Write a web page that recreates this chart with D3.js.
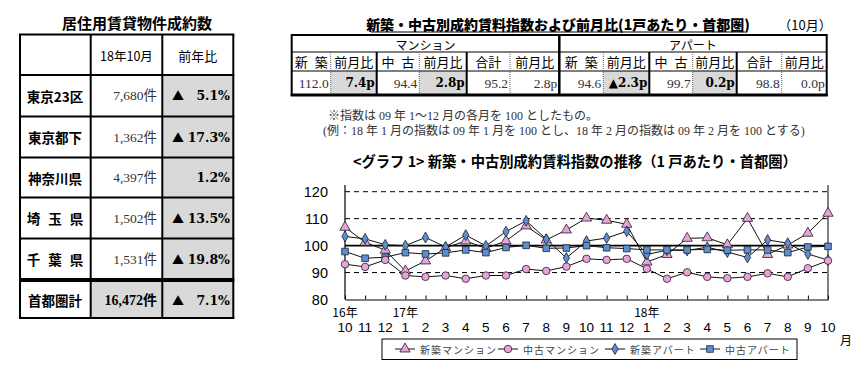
<!DOCTYPE html>
<html><head><meta charset="utf-8">
<script src="https://cdn.jsdelivr.net/npm/d3@7"></script>
<style>
html,body{margin:0;padding:0;background:#fff;}
svg{display:block;}
</style></head>
<body><svg id="c" width="864" height="382"></svg>
<script>
// ---------- data ----------
const regions = ["東京23区","東京都下","神奈川県","埼 玉 県","千 葉 県","首都圏計"];
const contracts = ["7,680件","1,362件","4,397件","1,502件","1,531件","16,472件"];
const yoyDown = [true,true,false,true,true,true];
const yoyValues = ["5.1%","17.3%","1.2%","13.5%","19.8%","7.1%"];

const idxGroups = ["マンション","アパート"];
const idxHeaders = ["新 築","前月比","中 古","前月比","合計","前月比","新 築","前月比","中 古","前月比","合計","前月比"];
const idxValues = ["112.0","7.4p","94.4","2.8p","95.2","2.8p","94.6","▲2.3p","99.7","0.2p","98.8","0.0p"];

const months = ["10","11","12","1","2","3","4","5","6","7","8","9","10","11","12","1","2","3","4","5","6","7","8","9","10"];
const yearLabels = ["16年","","","17年","","","","","","","","","","","","18年","","","","","","","","",""];
const yTicks = [80,90,100,110,120];
const seriesNames = ["新築マンション","中古マンション","新築アパート","中古アパート"];
const newMansion = [106.8,101.2,98.3,90.6,94.3,99.2,101.7,99.0,101.7,107.3,102.1,105.8,110.2,109.4,107.9,93.9,96.7,102.7,102.9,100.3,110.1,96.7,100.2,104.6,112.0];
const usedMansion = [93.1,92.1,94.7,88.9,88.4,88.9,87.7,88.9,88.9,91.3,90.6,92.2,95.1,94.7,95.1,91.4,87.7,90.1,88.4,87.9,88.4,89.7,88.4,91.6,94.4];
const newApart = [103.4,102.5,100.3,100.0,103.0,99.5,103.9,99.9,105.2,109.2,102.4,95.4,101.7,102.8,105.3,96.7,98.3,98.2,99.4,97.6,95.6,102.1,100.9,96.9,94.6];
const usedApart = [97.8,95.3,95.7,97.4,96.9,97.3,98.4,97.4,99.3,100.1,99.0,99.1,100.0,99.2,98.9,98.4,98.4,98.4,98.6,98.3,98.4,98.4,97.4,99.5,99.7];

// ---------- setup ----------
const svg = d3.select("#c");
const GOTHIC = "'Noto Sans CJK JP','Noto Sans',sans-serif";
const SERIF = "'Liberation Serif','Noto Sans CJK JP',serif";
const NUMSANS = "'Liberation Sans','Noto Sans CJK JP',sans-serif";
const SHADE = "#d9d9d9";

// ---------- Table 1 ----------
const t1 = svg.append("g");
t1.append("text").attr("x",137).attr("y",22).attr("text-anchor","middle").attr("dominant-baseline","central")
  .attr("font-family",GOTHIC).attr("font-weight","bold").attr("font-size",15).text("居住用賃貸物件成約数");
const t1cols = [20,90.7,162.3,233.3];
const t1rows = [34.5,75,116.5,157.5,197.5,238.5,280,318];
for (let r=0;r<6;r++){
  const y0 = r===5 ? 282 : t1rows[r+1], y1 = r===5 ? 318 : t1rows[r+2];
  t1.append("rect").attr("x",t1cols[2]).attr("y",y0).attr("width",t1cols[3]-t1cols[2]).attr("height",y1-y0).attr("fill",SHADE);
}
t1.append("rect").attr("x",t1cols[1]).attr("y",282).attr("width",t1cols[2]-t1cols[1]).attr("height",36).attr("fill",SHADE);
t1.append("text").attr("x",(t1cols[1]+t1cols[2])/2).attr("y",55).attr("text-anchor","middle").attr("dominant-baseline","central")
  .attr("font-family",GOTHIC).attr("font-size",12.5).text("18年10月");
t1.append("text").attr("x",(t1cols[2]+t1cols[3])/2).attr("y",55).attr("text-anchor","middle").attr("dominant-baseline","central")
  .attr("font-family",GOTHIC).attr("font-size",13).text("前年比");
regions.forEach((name,i)=>{
  const yc = i===5 ? 300 : (t1rows[i+1]+t1rows[i+2])/2;
  const total = i===5;
  t1.append("text").attr("x",55).attr("y",yc).attr("text-anchor","middle").attr("dominant-baseline","central")
    .attr("font-family",GOTHIC).attr("font-weight","bold").attr("font-size",13.5)
    .attr("word-spacing", name.includes(" ")?5:0).text(name);
  t1.append("text").attr("x",157).attr("y",yc).attr("text-anchor","end").attr("dominant-baseline","central")
    .attr("font-family",SERIF).attr("font-weight",total?"bold":"normal").attr("font-size",total?14:13.5)
    .attr("fill",total?"#000":"#333").text(contracts[i]);
  if (yoyDown[i]) t1.append("text").attr("x",172).attr("y",yc).attr("text-anchor","start").attr("dominant-baseline","central")
    .attr("font-family",GOTHIC).attr("font-size",12).text("▲");
  t1.append("text").attr("x",230).attr("y",yc).attr("text-anchor","end").attr("dominant-baseline","central")
    .attr("font-family","'DejaVu Serif',serif").attr("font-weight","bold").attr("font-size",12.5).text(yoyValues[i]);
});
t1cols.forEach(x=>t1.append("line").attr("x1",x).attr("x2",x).attr("y1",t1rows[0]).attr("y2",318).attr("stroke","#000").attr("stroke-width",2));
[34.5,75,116.5,157.5,197.5,238.5,318].forEach(y=>t1.append("line").attr("x1",19).attr("x2",234.3).attr("y1",y).attr("y2",y).attr("stroke","#000").attr("stroke-width",2));
t1.append("line").attr("x1",19).attr("x2",234.3).attr("y1",280).attr("y2",280).attr("stroke","#000").attr("stroke-width",4);

// ---------- Table 2 ----------
const t2 = svg.append("g");
t2.append("text").attr("x",558).attr("y",24).attr("text-anchor","middle").attr("dominant-baseline","central")
  .attr("font-family",GOTHIC).attr("font-weight","900").attr("font-size",14).text("新築・中古別成約賃料指数および前月比(1戸あたり・首都圏)");
t2.append("line").attr("x1",371).attr("x2",745).attr("y1",32).attr("y2",32).attr("stroke","#000").attr("stroke-width",1.2);
t2.append("text").attr("x",805).attr("y",24).attr("text-anchor","middle").attr("dominant-baseline","central")
  .attr("font-family",GOTHIC).attr("font-size",13).text("（10月）");
const cx = [291.7,330.7,376.7,419.3,466.7,510,559.3,603.3,649.3,692.7,736.7,781.7,826.7];
const r2 = [35,52,71,95];
[1,3,7,9].forEach(c=>t2.append("rect").attr("x",cx[c]).attr("y",r2[2]).attr("width",cx[c+1]-cx[c]).attr("height",r2[3]-r2[2]).attr("fill",SHADE));
idxGroups.forEach((g,i)=>{
  t2.append("text").attr("x",(cx[i*6]+cx[i*6+6])/2).attr("y",(r2[0]+r2[1])/2+0.5).attr("text-anchor","middle").attr("dominant-baseline","central")
    .attr("font-family",GOTHIC).attr("font-size",12).text(g);
});
idxHeaders.forEach((h,i)=>{
  t2.append("text").attr("x",(cx[i]+cx[i+1])/2).attr("y",(r2[1]+r2[2])/2).attr("text-anchor","middle").attr("dominant-baseline","central")
    .attr("font-family",GOTHIC).attr("font-size",13).attr("word-spacing",h.includes(" ")?4:0).text(h);
});
idxValues.forEach((v,i)=>{
  const bold = [1,3,7,9].includes(i);
  t2.append("text").attr("x",cx[i+1]-2).attr("y",(r2[2]+r2[3])/2).attr("text-anchor","end").attr("dominant-baseline","central")
    .attr("font-family",bold?"'DejaVu Serif',serif":SERIF).attr("font-weight",bold?"bold":"normal")
    .attr("font-size",bold?12:13.5).attr("fill",bold?"#000":"#333").text(v);
});
t2.append("line").attr("x1",cx[0]).attr("x2",cx[12]).attr("y1",r2[1]).attr("y2",r2[1]).attr("stroke","#000").attr("stroke-width",1);
t2.append("line").attr("x1",cx[0]).attr("x2",cx[12]).attr("y1",r2[2]).attr("y2",r2[2]).attr("stroke","#000").attr("stroke-width",1);
cx.forEach((x,i)=>{
  if (i===0||i===12||i===6) return;
  const dotted = i%2===1;
  t2.append("line").attr("x1",x).attr("x2",x).attr("y1",r2[1]).attr("y2",r2[3]).attr("stroke",dotted?"#666":"#000")
    .attr("stroke-width",dotted?1:2).attr("stroke-dasharray",dotted?"1,1":null);
});
t2.append("line").attr("x1",cx[6]).attr("x2",cx[6]).attr("y1",r2[0]).attr("y2",r2[3]).attr("stroke","#000").attr("stroke-width",2.5);
t2.append("rect").attr("x",cx[0]).attr("y",r2[0]).attr("width",cx[12]-cx[0]).attr("height",r2[3]-r2[0]).attr("fill","none").attr("stroke","#000").attr("stroke-width",2);
t2.append("line").attr("x1",cx[0]-1).attr("x2",cx[12]+1).attr("y1",r2[3]).attr("y2",r2[3]).attr("stroke","#000").attr("stroke-width",3);

// notes
svg.append("text").attr("x",328).attr("y",116).attr("dominant-baseline","central").attr("font-family",SERIF).attr("font-size",12).attr("fill","#333")
  .text("※指数は 09 年 1～12 月の各月を 100 としたもの。");
svg.append("text").attr("x",323).attr("y",131).attr("dominant-baseline","central").attr("font-family",SERIF).attr("font-size",12).attr("fill","#333")
  .text("(例：18 年 1 月の指数は 09 年 1 月を 100 とし、18 年 2 月の指数は 09 年 2 月を 100 とする)");

// ---------- Chart ----------
svg.append("text").attr("x",575).attr("y",160).attr("text-anchor","middle").attr("dominant-baseline","central")
  .attr("font-family",GOTHIC).attr("font-weight","bold").attr("font-size",14.3).text("<グラフ 1> 新築・中古別成約賃料指数の推移（1 戸あたり・首都圏）");

const x = d3.scalePoint().domain(d3.range(months.length)).range([345,828]);
const y = d3.scaleLinear().domain([80,120]).range([299.5,191.7]);
const plotTop = 185;
const ch = svg.append("g");
[90,110,120].forEach(v=>ch.append("line").attr("x1",345).attr("x2",828).attr("y1",y(v)).attr("y2",y(v))
  .attr("stroke","#000").attr("stroke-width",1).attr("stroke-dasharray","5,4"));
ch.append("line").attr("x1",345).attr("x2",828).attr("y1",y(100)).attr("y2",y(100)).attr("stroke","#000").attr("stroke-width",1.6);
ch.append("line").attr("x1",345).attr("x2",345).attr("y1",plotTop).attr("y2",y(80)).attr("stroke","#000").attr("stroke-width",1.2);
ch.append("line").attr("x1",828).attr("x2",828).attr("y1",plotTop).attr("y2",y(80)).attr("stroke","#000").attr("stroke-width",1);
const xAxis = d3.axisBottom(x).tickSizeInner(-4).tickSizeOuter(0).tickFormat(()=> "");
const gx = ch.append("g").attr("transform",`translate(0,${y(80)})`).call(xAxis);
gx.select(".domain").attr("stroke","#000").attr("stroke-width",1.2);
gx.selectAll(".tick line").attr("stroke","#000");
months.forEach((m,i)=>ch.append("text").attr("x",x(i)).attr("y",327).attr("text-anchor","middle").attr("dominant-baseline","central")
  .attr("font-family",NUMSANS).attr("font-size",13.5).text(m));
yearLabels.forEach((t,i)=>{ if(t) ch.append("text").attr("x",x(i)).attr("y",311).attr("text-anchor","middle").attr("dominant-baseline","central")
  .attr("font-family",GOTHIC).attr("font-size",12).text(t); });
ch.append("text").attr("x",846).attr("y",339).attr("text-anchor","middle").attr("dominant-baseline","central")
  .attr("font-family",GOTHIC).attr("font-size",12).text("月");
yTicks.forEach(v=>ch.append("text").attr("x",328).attr("y",y(v)).attr("text-anchor","end").attr("dominant-baseline","central")
  .attr("font-family",NUMSANS).attr("font-size",14.5).text(v));

const PINK = "#e9a3dc", BLUE = "#5b8fd4";
const series = [
  {name:seriesNames[0], data:newMansion, sym:d3.symbolTriangle, size:46, fill:PINK},
  {name:seriesNames[2], data:newApart, sym:d3.symbolDiamond, size:34, fill:BLUE},
  {name:seriesNames[3], data:usedApart, sym:d3.symbolSquare, size:44, fill:BLUE},
  {name:seriesNames[1], data:usedMansion, sym:d3.symbolCircle, size:44, fill:PINK},
];
const line = d3.line().x((d,i)=>x(i)).y(d=>y(d));
series.forEach(s=>{
  ch.append("path").attr("d",line(s.data)).attr("fill","none").attr("stroke","#111").attr("stroke-width",1);
});
series.forEach(s=>{
  ch.selectAll(null).data(s.data).enter().append("path")
    .attr("transform",(d,i)=>`translate(${x(i)},${y(d)})`)
    .attr("d",d3.symbol().type(s.sym).size(s.size)).attr("fill",s.fill).attr("stroke","#222").attr("stroke-width",0.8);
});

// legend
const lg = svg.append("g");
lg.append("rect").attr("x",382).attr("y",339).attr("width",415).attr("height",20.5).attr("fill","#fff").attr("stroke","#000").attr("stroke-width",1);
const legendItems = [
  {name:seriesNames[0], sym:d3.symbolTriangle, size:46, fill:PINK, x:395},
  {name:seriesNames[1], sym:d3.symbolCircle, size:44, fill:PINK, x:498},
  {name:seriesNames[2], sym:d3.symbolDiamond, size:34, fill:BLUE, x:605},
  {name:seriesNames[3], sym:d3.symbolSquare, size:44, fill:BLUE, x:700},
];
legendItems.forEach(it=>{
  lg.append("line").attr("x1",it.x).attr("x2",it.x+20).attr("y1",349).attr("y2",349).attr("stroke","#111").attr("stroke-width",1);
  lg.append("path").attr("transform",`translate(${it.x+10},349)`).attr("d",d3.symbol().type(it.sym).size(it.size))
    .attr("fill",it.fill).attr("stroke","#222").attr("stroke-width",0.8);
  lg.append("text").attr("x",it.x+25).attr("y",349.5).attr("dominant-baseline","central").attr("font-family",GOTHIC)
    .attr("font-size",10).attr("fill","#444").attr("letter-spacing",1).text(it.name);
});
</script></body></html>
